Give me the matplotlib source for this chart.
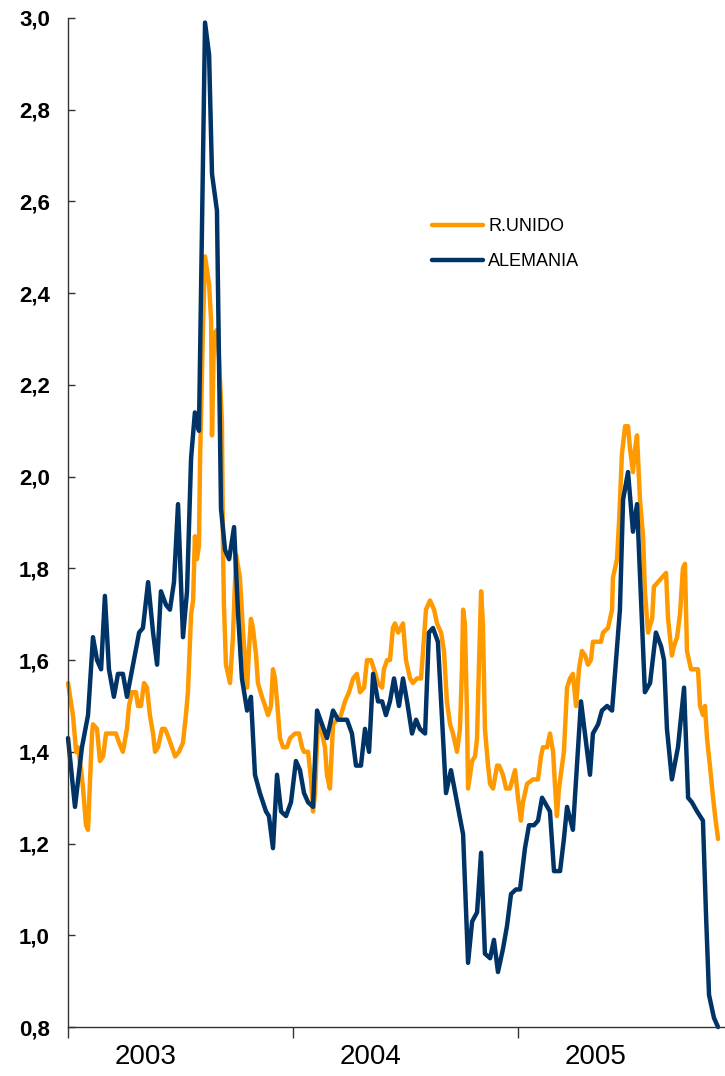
import numpy as np
import matplotlib

matplotlib.use("Agg")

import matplotlib.pyplot as plt
from matplotlib.ticker import FuncFormatter, FixedLocator

# ----- Data (time in years since 1 Jan 2003) -----
years = ["2003", "2004", "2005"]

t_alemania = [
    0.000, 0.031, 0.062, 0.089, 0.111, 0.129, 0.147, 0.164, 0.182, 0.204,
    0.222, 0.244, 0.262, 0.289, 0.316, 0.333, 0.356, 0.378, 0.396, 0.413,
    0.436, 0.453, 0.471, 0.489, 0.511, 0.529, 0.547, 0.564, 0.582, 0.609,
    0.627, 0.640, 0.662, 0.680, 0.698, 0.716, 0.738, 0.756, 0.773, 0.796,
    0.813, 0.831, 0.853, 0.880, 0.893, 0.911, 0.929, 0.947, 0.969, 0.991,
    1.013, 1.031, 1.049, 1.067, 1.089, 1.107, 1.129, 1.151, 1.178, 1.200,
    1.240, 1.262, 1.280, 1.302, 1.320, 1.338, 1.356, 1.378, 1.396, 1.413,
    1.431, 1.449, 1.471, 1.489, 1.507, 1.529, 1.547, 1.564, 1.587, 1.604,
    1.622, 1.644, 1.680, 1.702, 1.756, 1.778, 1.796, 1.818, 1.836, 1.853,
    1.876, 1.893, 1.911, 1.933, 1.951, 1.969, 1.991, 2.009, 2.031, 2.049,
    2.071, 2.089, 2.107, 2.142, 2.160, 2.187, 2.204, 2.218, 2.244, 2.280,
    2.320, 2.333, 2.356, 2.373, 2.396, 2.418, 2.431, 2.453, 2.467, 2.489,
    2.511, 2.529, 2.564, 2.587, 2.613, 2.636, 2.649, 2.662, 2.684, 2.711,
    2.738, 2.756, 2.773, 2.796, 2.822, 2.836, 2.849, 2.871, 2.889,
]
alemania = [
    1.43, 1.28, 1.41, 1.48, 1.65, 1.60, 1.58, 1.74, 1.58, 1.52,
    1.57, 1.57, 1.52, 1.59, 1.66, 1.67, 1.77, 1.66, 1.59, 1.75,
    1.72, 1.71, 1.77, 1.94, 1.65, 1.75, 2.04, 2.14, 2.10, 2.99,
    2.92, 2.66, 2.58, 1.93, 1.84, 1.82, 1.89, 1.70, 1.56, 1.49,
    1.52, 1.35, 1.31, 1.27, 1.26, 1.19, 1.35, 1.27, 1.26, 1.29,
    1.38, 1.36, 1.31, 1.29, 1.28, 1.49, 1.46, 1.43, 1.49, 1.47,
    1.47, 1.44, 1.37, 1.37, 1.45, 1.40, 1.57, 1.51, 1.51, 1.48,
    1.51, 1.56, 1.50, 1.56, 1.51, 1.44, 1.47, 1.45, 1.44, 1.66,
    1.67, 1.64, 1.31, 1.36, 1.22, 0.94, 1.03, 1.05, 1.18, 0.96,
    0.95, 0.99, 0.92, 0.97, 1.02, 1.09, 1.10, 1.10, 1.19, 1.24,
    1.24, 1.25, 1.30, 1.27, 1.14, 1.14, 1.21, 1.28, 1.23, 1.51,
    1.35, 1.44, 1.46, 1.49, 1.50, 1.49, 1.57, 1.71, 1.95, 2.01,
    1.88, 1.94, 1.53, 1.55, 1.66, 1.63, 1.60, 1.45, 1.34, 1.41,
    1.54, 1.30, 1.29, 1.27, 1.25, 1.04, 0.87, 0.82, 0.80,
]

t_runido = [
    0.000, 0.022, 0.036, 0.044, 0.058, 0.067, 0.080, 0.089, 0.098, 0.107,
    0.111, 0.129, 0.142, 0.156, 0.169, 0.196, 0.213, 0.227, 0.244, 0.262,
    0.271, 0.284, 0.302, 0.311, 0.324, 0.338, 0.351, 0.364, 0.378, 0.387,
    0.400, 0.418, 0.431, 0.440, 0.462, 0.476, 0.493, 0.511, 0.524, 0.533,
    0.547, 0.556, 0.564, 0.573, 0.582, 0.587, 0.600, 0.609, 0.618, 0.627,
    0.636, 0.640, 0.649, 0.662, 0.671, 0.684, 0.689, 0.693, 0.702, 0.720,
    0.733, 0.747, 0.764, 0.778, 0.796, 0.804, 0.813, 0.822, 0.836, 0.844,
    0.862, 0.876, 0.889, 0.902, 0.911, 0.920, 0.929, 0.942, 0.956, 0.973,
    0.987, 1.009, 1.027, 1.040, 1.049, 1.067, 1.080, 1.089, 1.098, 1.111,
    1.129, 1.142, 1.151, 1.164, 1.178, 1.196, 1.213, 1.231, 1.249, 1.267,
    1.284, 1.298, 1.316, 1.329, 1.347, 1.360, 1.378, 1.396, 1.404, 1.418,
    1.431, 1.444, 1.453, 1.467, 1.489, 1.502, 1.520, 1.533, 1.551, 1.569,
    1.578, 1.591, 1.609, 1.627, 1.640, 1.658, 1.671, 1.684, 1.698, 1.711,
    1.729, 1.742, 1.751, 1.756, 1.764, 1.773, 1.778, 1.796, 1.809, 1.818,
    1.827, 1.836, 1.844, 1.853, 1.867, 1.876, 1.889, 1.907, 1.916, 1.933,
    1.947, 1.964, 1.987, 2.000, 2.013, 2.022, 2.040, 2.067, 2.089, 2.102,
    2.111, 2.129, 2.142, 2.156, 2.164, 2.173, 2.182, 2.196, 2.204, 2.218,
    2.231, 2.244, 2.258, 2.271, 2.284, 2.298, 2.311, 2.324, 2.333, 2.351,
    2.369, 2.378, 2.400, 2.418, 2.422, 2.440, 2.449, 2.462, 2.476, 2.489,
    2.498, 2.511, 2.520, 2.529, 2.542, 2.556, 2.564, 2.578, 2.596, 2.604,
    2.622, 2.640, 2.658, 2.667, 2.684, 2.693, 2.707, 2.720, 2.733, 2.742,
    2.751, 2.769, 2.782, 2.800, 2.809, 2.822, 2.831, 2.840, 2.853, 2.867,
    2.876, 2.889,
]
runido = [
    1.55, 1.48, 1.40, 1.41, 1.36, 1.32, 1.24, 1.23, 1.34, 1.44,
    1.46, 1.45, 1.38, 1.39, 1.44, 1.44, 1.44, 1.42, 1.40, 1.45,
    1.50, 1.53, 1.53, 1.50, 1.50, 1.55, 1.54, 1.48, 1.44, 1.40,
    1.41, 1.45, 1.45, 1.44, 1.41, 1.39, 1.40, 1.42, 1.48, 1.53,
    1.70, 1.73, 1.87, 1.82, 1.85, 2.04, 2.33, 2.48, 2.45, 2.42,
    2.34, 2.09, 2.31, 2.32, 2.26, 2.12, 1.84, 1.72, 1.59, 1.55,
    1.65, 1.83, 1.78, 1.66, 1.54, 1.62, 1.69, 1.67, 1.61, 1.55,
    1.52, 1.50, 1.48, 1.50, 1.58, 1.56, 1.51, 1.43, 1.41, 1.41,
    1.43, 1.44, 1.44, 1.41, 1.40, 1.40, 1.34, 1.27, 1.31, 1.47,
    1.44, 1.41, 1.35, 1.32, 1.46, 1.47, 1.48, 1.51, 1.53, 1.56,
    1.57, 1.53, 1.54, 1.60, 1.60, 1.58, 1.55, 1.54, 1.58, 1.60,
    1.60, 1.67, 1.68, 1.66, 1.68, 1.60, 1.56, 1.55, 1.56, 1.56,
    1.62, 1.71, 1.73, 1.71, 1.68, 1.66, 1.62, 1.51, 1.46, 1.44,
    1.40, 1.45, 1.58, 1.71, 1.68, 1.49, 1.32, 1.38, 1.39, 1.43,
    1.60, 1.75, 1.68, 1.45, 1.37, 1.33, 1.32, 1.37, 1.37, 1.35,
    1.32, 1.32, 1.36, 1.30, 1.25, 1.29, 1.33, 1.34, 1.34, 1.39,
    1.41, 1.41, 1.44, 1.40, 1.33, 1.26, 1.32, 1.37, 1.40, 1.54,
    1.56, 1.57, 1.50, 1.58, 1.62, 1.61, 1.59, 1.60, 1.64, 1.64,
    1.64, 1.66, 1.67, 1.71, 1.78, 1.82, 1.90, 2.05, 2.11, 2.11,
    2.06, 2.01, 2.06, 2.09, 1.95, 1.87, 1.75, 1.66, 1.69, 1.76,
    1.77, 1.78, 1.79, 1.69, 1.61, 1.63, 1.65, 1.70, 1.80, 1.81,
    1.62, 1.58, 1.58, 1.58, 1.50, 1.48, 1.50, 1.43, 1.37, 1.30,
    1.26, 1.21,
]

# ----- Figure Setup -----
plt.rcParams["font.family"] = ["Liberation Sans", "DejaVu Sans"]
fig = plt.figure(figsize=(7.25, 10.76), dpi=100)
ax = fig.add_axes([0.0938, 0.0455, 0.9062, 0.9378])

orange = "#FF9900"
navy = "#003366"

ax.plot(t_runido, runido, color=orange, lw=3.2, label="R.UNIDO",
        solid_joinstyle="round", solid_capstyle="round", clip_on=False)
ax.plot(t_alemania, alemania, color=navy, lw=3.2, label="ALEMANIA",
        solid_joinstyle="round", solid_capstyle="round", clip_on=False)

ax.set_xlim(0, 2.92)
ax.set_ylim(0.8, 3.0)

for s in ["top", "right"]:
    ax.spines[s].set_visible(False)
for s in ["left", "bottom"]:
    ax.spines[s].set_color("#333333")
    ax.spines[s].set_linewidth(1.0)

# y axis: comma decimal, bold
ax.set_yticks(np.arange(0.8, 3.01, 0.2))
ax.yaxis.set_major_formatter(FuncFormatter(lambda v, p: f"{v:.1f}".replace(".", ",")))
ax.tick_params(axis="y", direction="in", length=5, width=1, color="#333333",
               labelsize=16, pad=13)
for lbl in ax.get_yticklabels():
    lbl.set_fontweight("bold")

# x axis: year boundaries as ticks, year names offset inside each year
ax.xaxis.set_major_locator(FixedLocator([0, 1, 2]))
ax.xaxis.set_major_formatter(FuncFormatter(lambda v, p: ""))
ax.xaxis.set_minor_locator(FixedLocator([i + 0.345 for i in range(len(years))]))
ax.xaxis.set_minor_formatter(FuncFormatter(lambda v, p: years[int(v)]))
ax.tick_params(axis="x", which="major", direction="out", length=8, width=1,
               color="#333333")
ax.tick_params(axis="x", which="minor", length=0, labelsize=20, pad=12)

# ----- Legend -----
ax.legend(loc="upper left", bbox_to_anchor=(0.596, 0.797),
          bbox_transform=fig.transFigure, frameon=False, fontsize=13,
          handlelength=2.8, handletextpad=0.3, borderpad=0, borderaxespad=0,
          labelspacing=1.0)

fig.savefig("out.png", dpi=100)
